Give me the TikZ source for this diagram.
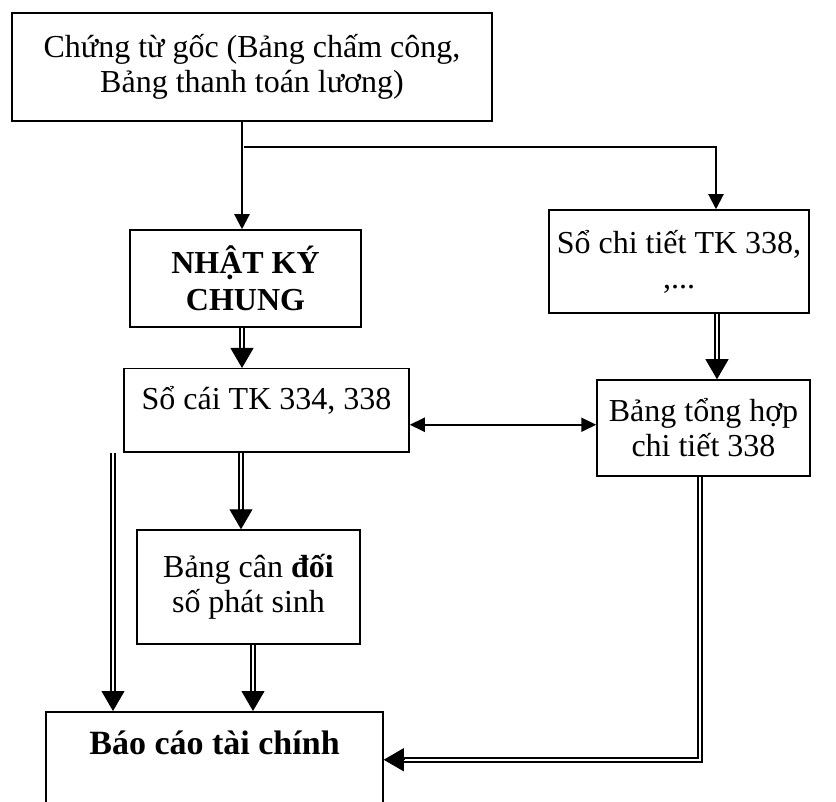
\documentclass[tikz,border=0pt]{standalone}
\usepackage{fontspec}
\setmainfont{Liberation Serif}
\usetikzlibrary{positioning, arrows.meta, calc}
\tikzstyle{chart} = [x = 1pt, y = -1pt]
\tikzstyle{boxStyle} = [draw, line width = 1.5pt, align = center, inner sep = 0pt, font = \fontsize{32}{35}\selectfont]
\tikzstyle{boldBox} = [boxStyle, font = \fontsize{32}{37}\selectfont\bfseries]
\tikzstyle{singleArrow} = [line width = 2.2pt, -{Triangle[length = 15pt, width = 15pt]}]
\tikzstyle{bothArrow} = [line width = 2pt, {Triangle[length = 15pt, width = 14pt]}-{Triangle[length = 15pt, width = 14pt]}]
\tikzstyle{doubleLine} = [double, double distance = 2.5pt, line width = 1.5pt, shorten >= 17pt]
\tikzstyle{bigTip} = [line width = 1pt, -{Triangle[length = 20pt, width = 23pt]}]
\newcommand{\doubleArrowDown}[2]{
  \draw [doubleLine] #1 -- #2;
  \draw [bigTip] ($#2 + (0, -20)$) -- #2;
}

\begin{document}
\begin{tikzpicture}[chart]
  \useasboundingbox (0, 0) rectangle (836, 802);
  \clip (0, 0) rectangle (836, 802);

  \node [boxStyle, minimum width = 480pt, minimum height = 108pt] (goc) at (252, 67) {Chứng từ gốc (Bảng chấm công,\\ Bảng thanh toán lương)};
  \node [boldBox, minimum width = 231pt, minimum height = 97pt] (nhatKy) at (245.5, 278.5) {NHẬT KÝ\\ CHUNG};
  \node [boxStyle, minimum width = 260pt, minimum height = 103pt] (soChiTiet) at (679, 261.5) {Sổ chi tiết TK 338,\\ ,...};
  \node [boxStyle, minimum width = 285pt, text height = 41pt, text depth = 42pt, anchor = north] (soCai) at (266.5, 368) {Sổ cái TK 334, 338};
  \node [boxStyle, minimum width = 213pt, minimum height = 96pt] (tongHop) at (703.5, 428) {Bảng tổng hợp\\ chi tiết 338};
  \node [boxStyle, minimum width = 223pt, minimum height = 114pt] (canDoi) at (248.5, 587) {Bảng cân \textbf{đối}\\ số phát sinh};
  \node [boldBox, font = \fontsize{34}{38}\selectfont\bfseries, minimum width = 337pt, text height = 43pt, text depth = 77pt, anchor = north] (baoCao) at (214.5, 711) {Báo cáo tài chính};

  \coordinate (branch) at ($(goc.south) + (-8, 25)$);
  \draw [singleArrow] ([xshift = -10pt]goc.south) -- ([xshift = -3.5pt]nhatKy.north);
  \draw [singleArrow, line width = 2pt] (branch) -| ([xshift = 37pt]soChiTiet.north);

  \doubleArrowDown{([xshift = -3.5pt]nhatKy.south)}{([xshift = -3.5pt]nhatKy.south |- soCai.north)}
  \doubleArrowDown{([xshift = 38pt]soChiTiet.south)}{([xshift = 38pt]soChiTiet.south |- tongHop.north)}
  \draw [bothArrow] ([yshift = -14.5pt]soCai.east) -- ([yshift = -14.5pt]soCai.east -| tongHop.west);
  \doubleArrowDown{([xshift = -25.5pt]soCai.south)}{([xshift = -25.5pt]soCai.south |- canDoi.north)}
  \doubleArrowDown{([xshift = -153.5pt]soCai.south)}{([xshift = -153.5pt]soCai.south |- baoCao.north)}
  \doubleArrowDown{([xshift = 4.5pt]canDoi.south)}{([xshift = 4.5pt]canDoi.south |- baoCao.north)}

  \draw [doubleLine] ([xshift = -3.5pt]tongHop.south) |- ([yshift = 12pt]baoCao.east);
  \draw [bigTip] ($([yshift = 12pt]baoCao.east) + (20, 0)$) -- ([yshift = 12pt]baoCao.east);
\end{tikzpicture}
\end{document}
